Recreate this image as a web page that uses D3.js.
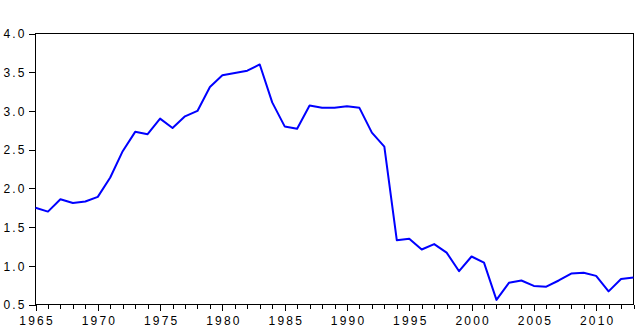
<!DOCTYPE html>
<meta charset="utf-8">
<head>
    <title>Series 1965-2013</title>
    <style>
    body { margin: 0; background: #fff; }
    #chart { display: block; }
    .axis text { font-family: "Liberation Sans", Arial, sans-serif; font-size: 12px; letter-spacing: 2.2px; fill: #000; }
    .axis path, .axis line { stroke: #000; shape-rendering: crispEdges; }
    </style>
</head>
<body>
<script src="https://cdn.jsdelivr.net/npm/d3@7"></script>
<svg id="chart"></svg>
<script>
    // data, one value per year
    var years = d3.range(1965, 2014);
    var values = [
        1.75, 1.70, 1.86, 1.81, 1.83, 1.89, 2.14, 2.48, 2.73, 2.70,
        2.90, 2.78, 2.93, 3.00, 3.31, 3.46, 3.49, 3.52, 3.60, 3.11,
        2.80, 2.77, 3.07, 3.04, 3.04, 3.06, 3.04, 2.72, 2.54, 1.33,
        1.35, 1.21, 1.28, 1.17, 0.93, 1.12, 1.04, 0.56, 0.78, 0.81,
        0.74, 0.73, 0.81, 0.90, 0.91, 0.87, 0.67, 0.83, 0.85
    ];
    var xLabels = [1965, 1970, 1975, 1980, 1985, 1990, 1995, 2000, 2005, 2010];
    var yTicks = [0.5, 1.0, 1.5, 2.0, 2.5, 3.0, 3.5, 4.0];

    var W = 636, H = 328;
    // plot box (window.top is reserved, so use other names)
    var pLeft = 35.5, pRight = 633.5, pTop = 33.5, pBottom = 304.5;

    var svg = d3.select("#chart")
        .attr("width", W)
        .attr("height", H);

    var x = d3.scaleLinear().domain([1965, 2013]).range([pLeft, pRight]);
    var y = d3.scaleLinear().domain([0.5, 4.0]).range([pBottom, pTop]);

    // frame
    svg.append("rect")
        .attr("x", pLeft).attr("y", pTop)
        .attr("width", pRight - pLeft).attr("height", pBottom - pTop)
        .attr("fill", "none").attr("stroke", "#000")
        .attr("shape-rendering", "crispEdges");

    // minor yearly ticks
    svg.append("g")
        .attr("class", "axis")
        .attr("transform", "translate(0," + pBottom + ")")
        .call(d3.axisBottom(x).tickValues(years).tickSize(4).tickFormat("").tickSizeOuter(0))
        .select(".domain").remove();

    // major ticks + labels
    var xa = svg.append("g")
        .attr("class", "axis")
        .attr("transform", "translate(0," + pBottom + ")")
        .call(d3.axisBottom(x).tickValues(xLabels).tickSize(6).tickPadding(6).tickSizeOuter(0).tickFormat(d3.format("d")));
    xa.select(".domain").remove();
    xa.selectAll("text").attr("dx", "1.1px");

    var ya = svg.append("g")
        .attr("class", "axis")
        .attr("transform", "translate(" + pLeft + ",0)")
        .call(d3.axisLeft(y).tickValues(yTicks).tickSize(7).tickPadding(4).tickSizeOuter(0).tickFormat(d3.format(".1f")));
    ya.select(".domain").remove();
    ya.selectAll("text").attr("dx", "2.2px").attr("dy", "0.36em");

    var line = d3.line()
        .x(function(d, i) { return x(years[i]); })
        .y(function(d) { return y(d); });

    svg.append("path")
        .datum(values)
        .attr("d", line)
        .attr("fill", "none")
        .attr("stroke", "#0000ff")
        .attr("stroke-width", 2)
        .attr("stroke-linejoin", "round");
</script>
</body>
